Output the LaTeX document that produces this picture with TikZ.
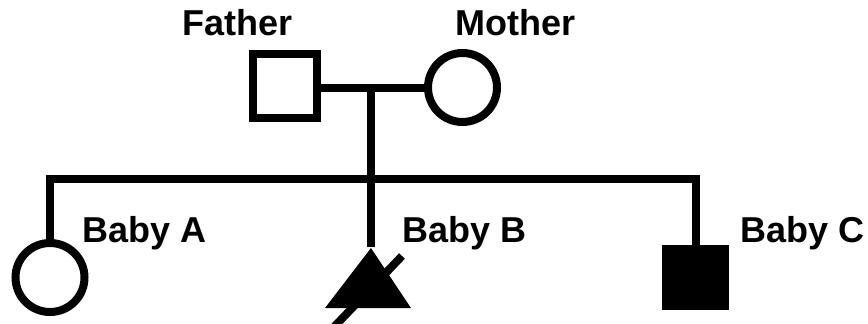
\documentclass[tikz,border=0pt]{standalone}
\usepackage{fontspec}
\setmainfont{Liberation Sans}
\begin{document}
\begin{tikzpicture}[x=1bp,y=-1bp,
  lw/.style={line width=8bp},
  lbl/.style={font=\fontsize{36bp}{40bp}\selectfont\bfseries, anchor=base west, inner sep=0pt},
  male/.style={draw, lw, rectangle, minimum size=64bp, inner sep=0pt},
  female/.style={draw, lw, circle, minimum size=69bp, inner sep=0pt},
  affmale/.style={fill=black, rectangle, minimum width=67bp, minimum height=65bp, inner sep=0pt}]
\useasboundingbox (0,0) rectangle (868,323);
% parents
\node[male] (father) at (285,86) {};
\node[female] (mother) at (462.5,87.5) {};
\coordinate (mid) at (371,88);
\draw[lw] (father.east |- mid) -- (mother.west |- mid);
% sibship
\coordinate (sibL) at (50,179);
\coordinate (sibR) at (695.5,179);
\coordinate (sibM) at (371,179);
\draw[lw] (mid) -- (sibM);
% children
\node[female] (babyA) at (50,277.5) {};
\node[affmale] (babyC) at (695.5,277.5) {};
\coordinate (babyB) at (371,248);
\fill (babyB) -- (325,308) -- (411,308) -- cycle;
\coordinate (slashT) at (402,256);
\coordinate (slashB) at (333,328);
\draw[lw] (slashT) -- (slashB);
\draw[lw, line join=miter] (babyA.north) -- (sibL) -- (sibR) -- (babyC.north);
\draw[lw] (sibM) -- ([yshift=1bp]babyB);
% labels
\node[lbl] (lf) at (182.5,35) {Father};
\node[lbl] (lm) at (455.5,35) {Mother};
\node[lbl] (la) at (82,242) {Baby A};
\node[lbl] (lb) at (402,242) {Baby B};
\node[lbl] (lc) at (740,242) {Baby C};
\end{tikzpicture}
\end{document}
